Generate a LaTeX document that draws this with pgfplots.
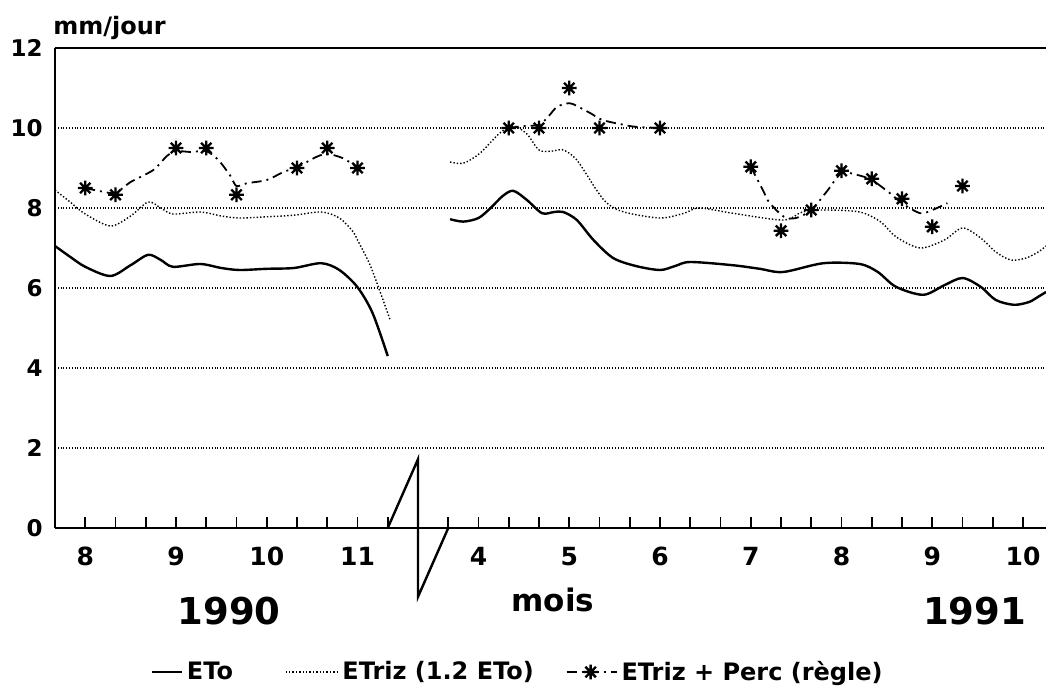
\documentclass[border=0pt]{standalone}
\usepackage{fontspec}
\setmainfont{DejaVu Sans}
\usepackage{pgfplots}
\pgfplotsset{compat=1.18}
\pgfdeclareplotmark{star8}{%
 \pgfpathmoveto{\pgfqpoint{-\pgfplotmarksize}{0pt}}\pgfpathlineto{\pgfqpoint{\pgfplotmarksize}{0pt}}%
 \pgfpathmoveto{\pgfqpoint{0pt}{-\pgfplotmarksize}}\pgfpathlineto{\pgfqpoint{0pt}{\pgfplotmarksize}}%
 \pgfpathmoveto{\pgfqpoint{-.707\pgfplotmarksize}{-.707\pgfplotmarksize}}\pgfpathlineto{\pgfqpoint{.707\pgfplotmarksize}{.707\pgfplotmarksize}}%
 \pgfpathmoveto{\pgfqpoint{-.707\pgfplotmarksize}{.707\pgfplotmarksize}}\pgfpathlineto{\pgfqpoint{.707\pgfplotmarksize}{-.707\pgfplotmarksize}}%
 \pgfusepathqstroke}
\tikzset{
  etoline/.style={black, line width=1.2pt},
  etrizline/.style={black, line width=0.7pt, densely dotted},
  percline/.style={black, line width=0.9pt, dash pattern=on 5pt off 2.5pt on 1pt off 2.5pt},
}
\begin{document}
\begin{tikzpicture}
\begin{axis}[
  scale only axis, width=495.5pt, height=240pt,
  xmin=-1, xmax=31.76, ymin=0, ymax=12,
  axis x line=box, axis y line=left,
  axis line style={-, line width=1.1pt},
  clip=false,
  /pgf/number format/assume math mode=true,
  ytick={0,2,4,6,8,10,12},
  ytick style={draw=none},
  ymajorgrids,
  grid style={densely dotted, line width=0.6pt, black},
  yticklabel style={anchor=east, inner sep=0pt, xshift=-6pt, font=\fontsize{11.5}{13}\selectfont\bfseries},
  xtick={0,1,...,31},
  xticklabels={8,,,9,,,10,,,11,,,,4,,,5,,,6,,,7,,,8,,,9,,,10},
  xtick pos=left,
  tick align=inside,
  major tick length=5.5pt,
  xtick style={line width=0.8pt, black},
  xticklabel style={anchor=north, inner sep=0pt, yshift=-9.5pt, font=\fontsize{12.5}{14}\selectfont\bfseries},
  legend style={at={(rel axis cs:0.096,-0.3)}, anchor=west, draw=none, fill=none, inner sep=0pt,
    legend columns=3, font=\fontsize{12}{14}\selectfont\bfseries,
    /tikz/column 2/.style={column sep=24pt},
    /tikz/column 4/.style={column sep=14pt}},
  legend cell align=left,
]
% ETo
\addplot[etoline, smooth, tension=0.5,
  legend image code/.code={\draw[etoline] (0pt,0pt) -- (15pt,0pt);}] coordinates {
(-1,7.05) (-0.5,6.78) (0,6.53) (0.83,6.3) (1.5,6.57) (2.08,6.83) (2.5,6.7) (2.9,6.53) (3.8,6.6) (4.5,6.5) (5.1,6.45) (6.0,6.48) (6.9,6.5) (7.8,6.62) (8.4,6.45) (9.0,6.02) (9.5,5.37) (10.0,4.3)};
\addlegendentry{ETo}
% ETriz
\addplot[etrizline, smooth, tension=0.5,
  legend image code/.code={\draw[etrizline] (0pt,0pt) -- (26pt,0pt);}] coordinates {
(-1,8.45) (-0.5,8.15) (0,7.85) (0.83,7.55) (1.5,7.8) (2.08,8.15) (2.5,8.0) (2.9,7.85) (3.8,7.9) (4.5,7.8) (5.1,7.75) (6.0,7.78) (6.9,7.82) (7.8,7.9) (8.4,7.75) (8.86,7.4) (9.0,7.2) (9.4,6.6) (9.75,5.9) (10.08,5.2)};
\addlegendentry{ETriz (1.2 ETo)}
% ETriz + Perc line
\addplot[percline, smooth, tension=0.5,
  legend image code/.code={\draw[percline] (0pt,0pt) -- (25pt,0pt); \draw[black, solid, line width=1.2pt, mark=star8, mark size=3.7pt] plot coordinates {(12pt,0pt)};}] coordinates {
(0,8.5) (0.5,8.42) (1,8.38) (1.5,8.65) (2.25,8.95) (2.7,9.3) (3,9.42) (3.5,9.4) (4,9.42) (4.4,9.2) (4.8,8.8) (5,8.55) (5.35,8.62) (6,8.7) (6.55,8.9) (7,9.02) (7.65,9.28) (8,9.35) (8.5,9.25) (9,9.02)};
\addlegendentry{ETriz + Perc (règle)}
% second period
\addplot[forget plot, etoline, smooth, tension=0.5] coordinates {
(12.06,7.72) (12.5,7.66) (13,7.75) (13.4,8.0) (13.8,8.3) (14.15,8.43) (14.6,8.2) (15.1,7.87) (15.5,7.9) (15.8,7.9) (16.25,7.7) (16.8,7.2) (17.45,6.75) (18.2,6.55) (19.0,6.45) (19.5,6.55) (20,6.65) (21.4,6.57) (22.3,6.48) (23.07,6.4) (24.4,6.62) (25.6,6.6) (26.2,6.4) (26.8,6.03) (27.7,5.83) (28.4,6.07) (29.0,6.25) (29.6,6.03) (30.1,5.7) (30.7,5.58) (31.2,5.65) (31.5,5.78) (31.76,5.9)};
\addplot[forget plot, etrizline, smooth, tension=0.5] coordinates {
(12.06,9.15) (12.5,9.12) (13.05,9.37) (13.7,9.87) (14.15,10.05) (14.6,9.85) (15.0,9.45) (15.4,9.42) (15.8,9.45) (16.25,9.2) (16.9,8.45) (17.25,8.12) (17.8,7.9) (19.0,7.75) (19.8,7.87) (20.3,8.0) (21.4,7.87) (23.07,7.7) (23.7,7.9) (24.4,7.95) (25.6,7.9) (26.3,7.65) (26.8,7.28) (27.6,7.0) (28.4,7.2) (29.0,7.5) (29.6,7.25) (30.1,6.9) (30.6,6.7) (31.1,6.75) (31.5,6.9) (31.76,7.05)};
\addplot[forget plot, percline, smooth, tension=0.5] coordinates {
(14,10.0) (14.5,10.05) (15,10.08) (15.3,10.28) (15.6,10.53) (16,10.62) (16.25,10.55) (16.7,10.37) (17.1,10.2) (17.8,10.08) (18.2,10.03) (19,10.0) (19.3,10.0)};
\addplot[forget plot, percline, smooth, tension=0.5] coordinates {
(22,9.03) (22.4,8.45) (22.6,8.15) (23.1,7.78) (23.5,7.75) (24,7.95) (24.5,8.4) (25,8.87) (25.5,8.83) (26,8.7) (26.6,8.37) (27,8.12) (27.6,7.87) (28,7.95) (28.5,8.12)};
% stars
\addplot[forget plot, only marks, black, mark=star8, mark size=3.7pt, line width=1.2pt] coordinates {
(0,8.5) (1,8.33) (3,9.5) (4,9.5) (5,8.33) (7,9.0) (8,9.5) (9,9.0)
(14,10) (15,10) (16,11) (17,10) (19,10)
(22,9.03) (23,7.43) (24,7.95) (25,8.93) (26,8.73) (27,8.23) (28,7.53) (29,8.55)};
% axis break
\addplot[forget plot, black, line width=1.2pt] coordinates {(10,0) (11,1.72) (11,-1.72) (12,0)};
% texts
\node[anchor=base west, inner sep=0pt, font=\fontsize{12}{14}\selectfont\bfseries] at (rel axis cs:-0.002,1.029) {mm/jour};
\node[font=\fontsize{18.5}{22}\selectfont\bfseries] at (rel axis cs:0.1756,-0.173) {1990};
\node[font=\fontsize{18.5}{22}\selectfont\bfseries] at (rel axis cs:0.928,-0.173) {1991};
\node[font=\fontsize{15.5}{18}\selectfont\bfseries] at (rel axis cs:0.5025,-0.15) {mois};
\coordinate (TL) at (rel axis cs:-0.0555,1.1);
\coordinate (BR) at (rel axis cs:1,-0.3375);
\end{axis}
\pgfresetboundingbox
\path (TL) rectangle (BR);
\end{tikzpicture}
\end{document}
